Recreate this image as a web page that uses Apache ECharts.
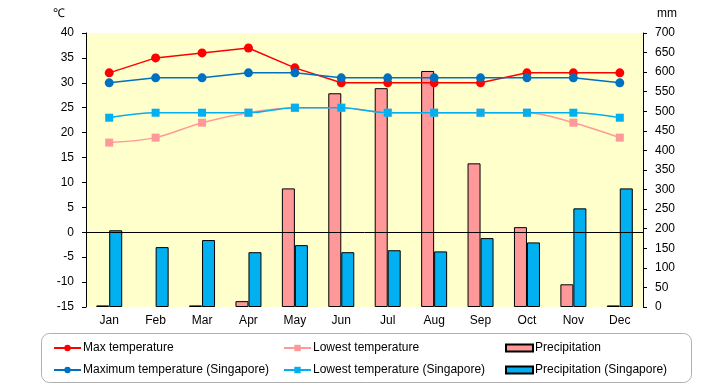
<!DOCTYPE html>
<html><head><meta charset="utf-8">
<script src="https://cdn.jsdelivr.net/npm/echarts@6/dist/echarts.min.js"></script>
<style>html,body{margin:0;padding:0;background:#fff}#c{width:720px;height:385px}</style>
</head><body><div id="c"></div>
<script>
const months = ['Jan','Feb','Mar','Apr','May','Jun','Jul','Aug','Sep','Oct','Nov','Dec'];
const maxTemp = [32,35,36,37,33,30,30,30,30,32,32,32];
const lowTemp = [18,19,22,24,25,25,24,24,24,24,22,19];
const precip = [4,0,4,15,303,546,559,603,367,204,58,4];
const maxTempSg = [30,31,31,32,32,31,31,31,31,31,31,30];
const lowTempSg = [23,24,24,24,25,25,24,24,24,24,24,23];
const precipSg = [196,153,171,140,158,140,145,142,176,165,252,303];
const tempTicks = {min:-15,max:40,interval:5};
const precipTicks = {min:0,max:700,interval:50};

const FONT = 'Liberation Sans';
const chart = echarts.init(document.getElementById('c'));
const N = {
  max:'Max temperature', low:'Lowest temperature', pr:'Precipitation',
  maxSg:'Maximum temperature (Singapore)', lowSg:'Lowest temperature (Singapore)', prSg:'Precipitation (Singapore)'
};
function lg(name, left, top, bar){
  const o = {data:[name], left:left, top:top, itemWidth:27, itemHeight: bar?7:8, itemGap:0,
    padding:0, textStyle:{fontFamily:FONT,fontSize:12,color:'#000',padding:[0,0,0,-3]}, selectedMode:false};
  if (bar) o.icon = 'rect';
  return o;
}
// zero-height bars are not drawn (no border line)
const barData = arr => arr.map(v => v === 0 ? {value:v, itemStyle:{borderWidth:0}} : v);
chart.setOption({
  animation:false,
  textStyle:{fontFamily:FONT},
  grid:{left:86,right:77,top:33,height:274,show:true,backgroundColor:'#FFFFCC',borderWidth:0},
  graphic:[
    {type:'text',left:53,top:8,style:{text:'℃',font:'12px '+FONT,fill:'#000'}},
    {type:'text',left:657,top:8,style:{text:'mm',font:'12px '+FONT,fill:'#000'}},
    {type:'rect',shape:{x:41.5,y:333.5,width:650,height:49,r:8},style:{fill:'none',stroke:'#b0b0b0',lineWidth:1}}
  ],
  legend:[
    lg(N.max,53,342), lg(N.low,283,342), lg(N.pr,505,342,true),
    lg(N.maxSg,53,364), lg(N.lowSg,283,364), lg(N.prSg,505,364,true)
  ],
  xAxis:{type:'category',data:months,axisLine:{show:false},axisTick:{show:false},
    axisLabel:{color:'#000',fontSize:12,margin:8,fontFamily:FONT},splitLine:{show:false}},
  yAxis:[
    {type:'value',min:tempTicks.min,max:tempTicks.max,interval:tempTicks.interval,
      axisLine:{show:true,lineStyle:{color:'#000'}},axisTick:{show:true,length:4,lineStyle:{color:'#000'}},
      axisLabel:{color:'#000',fontSize:12,margin:12,fontFamily:FONT},splitLine:{show:false}},
    {type:'value',min:precipTicks.min,max:precipTicks.max,interval:precipTicks.interval,position:'right',
      axisLine:{show:true,lineStyle:{color:'#000'}},axisTick:{show:true,length:4,lineStyle:{color:'#000'}},
      axisLabel:{color:'#000',fontSize:12,margin:12,fontFamily:FONT},splitLine:{show:false}}
  ],
  series:[
    {name:N.pr,type:'bar',yAxisIndex:1,data:barData(precip),barWidth:13,barGap:'0%',
      itemStyle:{color:'#FF9999',borderColor:'#000',borderWidth:1}},
    {name:N.prSg,type:'bar',yAxisIndex:1,data:barData(precipSg),barWidth:13,barGap:'0%',
      itemStyle:{color:'#00B0F0',borderColor:'#000',borderWidth:1}},
    {name:N.max,type:'line',yAxisIndex:0,data:maxTemp,symbol:'circle',symbolSize:9,
      lineStyle:{color:'#FF0000',width:1.5},itemStyle:{color:'#FF0000'},
      markLine:{silent:true,symbol:'none',label:{show:false},lineStyle:{color:'#000',type:'solid',width:1},data:[{yAxis:0}]}},
    {name:N.low,type:'line',yAxisIndex:0,data:lowTemp,symbol:'rect',symbolSize:8,smooth:0.35,
      lineStyle:{color:'#FF9999',width:1.5},itemStyle:{color:'#FF9999'}},
    {name:N.maxSg,type:'line',yAxisIndex:0,data:maxTempSg,symbol:'circle',symbolSize:9,
      lineStyle:{color:'#0070C0',width:1.5},itemStyle:{color:'#0070C0'}},
    {name:N.lowSg,type:'line',yAxisIndex:0,data:lowTempSg,symbol:'rect',symbolSize:8,smooth:0.35,
      lineStyle:{color:'#00B0F0',width:1.5},itemStyle:{color:'#00B0F0'}}
  ]
});
</script></body></html>
